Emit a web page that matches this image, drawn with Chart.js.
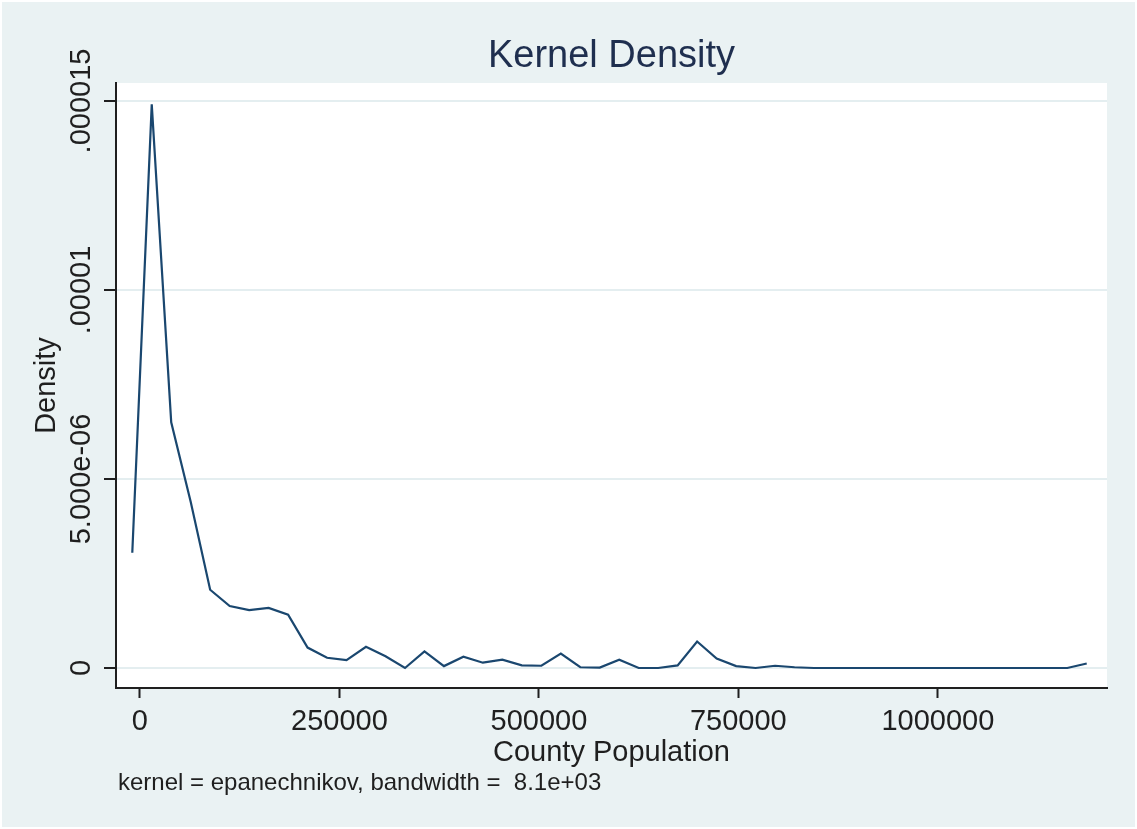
<!DOCTYPE html>
<html>
<head>
<meta charset="utf-8">
<title>Kernel Density</title>
<script src="https://cdn.jsdelivr.net/npm/chart.js@4.4.0/dist/chart.umd.min.js"></script>
<style>
  html, body { margin: 0; padding: 0; background: #ffffff; }
  canvas { display: block; }
</style>
</head>
<body>
<canvas id="kdensity" width="1137" height="829"></canvas>
<script>
// county population grid (evaluation points of the kernel estimate)
const population = [
  -9600, 14800, 39200, 63600, 88000, 112500, 136900, 161300, 185700, 210100,
  234500, 258900, 283300, 307800, 332200, 356600, 381000, 405400, 429800, 454200,
  478600, 503100, 527500, 551900, 576300, 600700, 625100, 649500, 673900, 698300,
  722800, 747200, 771600, 796000, 820400, 844800, 869200, 893600, 918100, 942500,
  966900, 991300, 1015700, 1040100, 1064500, 1088900, 1113400, 1137800, 1162200, 1186600
];
// estimated density at each point
const density = [
  3.05e-6, 1.491e-5, 6.5e-6, 4.40e-6, 2.07e-6, 1.64e-6, 1.53e-6, 1.59e-6, 1.41e-6, 5.4e-7,
  2.7e-7, 2.1e-7, 5.6e-7, 3.1e-7, 0, 4.4e-7, 5e-8, 3.0e-7, 1.4e-7, 2.2e-7,
  7e-8, 6e-8, 3.8e-7, 2e-8, 1e-8, 2.2e-7, 0, 0, 7e-8, 7.0e-7,
  2.5e-7, 5e-8, 0, 6e-8, 2e-8, 0, 0, 0, 0, 0,
  0, 0, 0, 0, 0, 0, 0, 0, 0, 1.2e-7
];

const xTickValues = [0, 250000, 500000, 750000, 1000000];
const xTickLabels = ['0', '250000', '500000', '750000', '1000000'];
const yTickValues = [0, 5e-6, 1e-5, 1.5e-5];
const yTickLabels = ['0', '5.000e-06', '.00001', '.000015'];

const noteText = 'kernel = epanechnikov, bandwidth =  8.1e+03';

const FONT = "'Liberation Sans', Arial, sans-serif";
const INK = '#1f1f1f';
Chart.defaults.font.family = FONT;

// backdrop: light outer region, white plot region
const backdrop = {
  id: 'backdrop',
  beforeDraw(chart) {
    const { ctx, chartArea: a } = chart;
    ctx.save();
    ctx.fillStyle = '#ffffff';
    ctx.fillRect(0, 0, chart.width, chart.height);
    ctx.fillStyle = '#eaf2f3';
    ctx.fillRect(2, 2, chart.width - 4, chart.height - 4);
    ctx.fillStyle = '#ffffff';
    ctx.fillRect(a.left, a.top, a.right - a.left, a.bottom - a.top);
    ctx.restore();
  }
};

// y tick labels are written vertically, like Stata does
const verticalTicks = {
  id: 'verticalTicks',
  afterDraw(chart) {
    const { ctx } = chart;
    const y = chart.scales.y;
    ctx.save();
    ctx.font = '29px ' + FONT;
    ctx.fillStyle = INK;
    ctx.textAlign = 'center';
    ctx.textBaseline = 'middle';
    y.ticks.forEach(t => {
      const py = y.getPixelForValue(t.value);
      ctx.save();
      ctx.translate(82, py);
      ctx.rotate(-Math.PI / 2);
      ctx.fillText(t.label, 0, 0);
      ctx.restore();
    });
    // kernel note under the axis title
    ctx.font = '24px ' + FONT;
    ctx.textAlign = 'left';
    ctx.fillText(noteText, 118, 783);
    ctx.restore();
  }
};

const ctx = document.getElementById('kdensity').getContext('2d');
const chart = new Chart(ctx, {
  type: 'line',
  data: {
    datasets: [
      {
        label: 'Density',
        data: population.map((p, i) => ({ x: p, y: density[i] })),
        borderColor: '#1a476f',
        borderWidth: 2.2,
        pointRadius: 0,
        tension: 0,
        fill: false
      }
    ]
  },
  options: {
    responsive: false,
    animation: false,
    devicePixelRatio: 1,
    layout: { padding: { left: 0, right: 30, top: 0, bottom: 46 } },
    plugins: {
      legend: { display: false },
      tooltip: { enabled: false },
      title: {
        display: true,
        text: 'Kernel Density',
        fullSize: false,
        color: '#1f2f4f',
        font: { size: 38, weight: 'normal' },
        padding: { top: 34, bottom: 3.4 }
      }
    },
    scales: {
      x: {
        type: 'linear',
        min: -30000,
        max: 1212000,
        afterBuildTicks: s => { s.ticks = xTickValues.map(v => ({ value: v })); },
        afterFit: s => { s.height = 95; },
        ticks: {
          callback: v => xTickLabels[xTickValues.indexOf(v)],
          color: INK,
          font: { size: 29 },
          padding: 7,
          maxRotation: 0,
          minRotation: 0
        },
        grid: { drawOnChartArea: false, drawTicks: true, tickLength: 10, tickWidth: 2, tickColor: INK },
        border: { display: true, color: INK, width: 2 },
        title: {
          display: true,
          text: 'County Population',
          color: INK,
          font: { size: 29 },
          padding: { top: 0, bottom: 13 }
        }
      },
      y: {
        type: 'linear',
        min: -5.29e-7,
        max: 1.5476e-5,
        afterBuildTicks: s => { s.ticks = yTickValues.map(v => ({ value: v })); },
        afterFit: s => { s.width = 116; },
        ticks: {
          callback: v => yTickLabels[yTickValues.indexOf(v)],
          color: 'rgba(0,0,0,0)',
          font: { size: 29 }
        },
        grid: { color: '#e4eef0', lineWidth: 2, drawTicks: true, tickLength: 12, tickWidth: 2, tickColor: INK },
        border: { display: true, color: INK, width: 2 },
        title: {
          display: true,
          text: 'Density',
          color: INK,
          font: { size: 29 },
          padding: { top: 30, bottom: 0 }
        }
      }
    }
  },
  plugins: [backdrop, verticalTicks]
});
</script>
</body>
</html>
